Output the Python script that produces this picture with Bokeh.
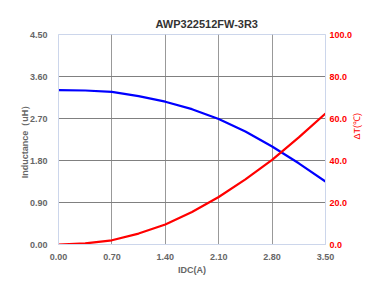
import math
from bokeh.plotting import figure
from bokeh.models import Range1d, LinearAxis, FixedTicker, NumeralTickFormatter
from bokeh.embed import file_html
from bokeh.resources import INLINE

idc = [0.0, 0.35, 0.70, 1.05, 1.40, 1.75, 2.10, 2.45, 2.80, 3.15, 3.50]
inductance = [3.31, 3.30, 3.27, 3.18, 3.06, 2.90, 2.69, 2.42, 2.10, 1.74, 1.35]
delta_t = [0.0, 0.5, 2.0, 5.2, 9.5, 15.5, 22.6, 31.0, 40.3, 51.0, 62.4]

x_ticks = [0.0, 0.7, 1.4, 2.1, 2.8, 3.5]
l_ticks = [0.0, 0.9, 1.8, 2.7, 3.6, 4.5]
r_ticks = [0, 20, 40, 60, 80, 100]

FONT = "Liberation Sans"

p = figure(width=370, height=277, output_backend="svg", toolbar_location=None,
           x_range=Range1d(0, 3.5), y_range=Range1d(0, 4.5),
           min_border_left=58, min_border_right=40, min_border_top=34, min_border_bottom=32,
           title="AWP322512FW-3R3")
p.extra_y_ranges = {"t": Range1d(0, 100)}

p.title.align = "left"
p.title.offset = 97
p.title.text_font = FONT
p.title.text_font_size = "11px"
p.title.text_color = "#333333"
p.title.text_font_style = "bold"
p.title.standoff = 10

p.outline_line_color = "#ccd6eb"
p.background_fill_color = "white"
p.border_fill_color = "white"

p.xgrid.ticker = FixedTicker(ticks=x_ticks[1:-1])
p.xgrid.grid_line_color = "#999999"
p.ygrid.ticker = FixedTicker(ticks=l_ticks[1:-1])
p.ygrid.grid_line_color = "#808080"


def style(a, color="#666666"):
    a.major_label_text_font = FONT
    a.major_label_text_font_size = "9px"
    a.major_label_text_font_style = "bold"
    a.major_label_text_color = color
    a.axis_label_text_font = FONT
    a.axis_label_text_font_size = "9px"
    a.axis_label_text_font_style = "bold"
    a.axis_label_text_color = color
    a.minor_tick_line_color = None


# bottom axis
xa = p.xaxis[0]
style(xa)
xa.ticker = FixedTicker(ticks=x_ticks)
xa.formatter = NumeralTickFormatter(format="0.00")
xa.axis_label = "IDC(A)"
xa.axis_line_color = "#ccd6eb"
xa.major_tick_line_color = None
xa.major_label_standoff = 3
xa.axis_label_standoff = 2

# left axis
ya = p.yaxis[0]
style(ya)
ya.ticker = FixedTicker(ticks=l_ticks)
ya.formatter = NumeralTickFormatter(format="0.00")
ya.axis_label = "Inductance（uH）"
ya.axis_line_color = "#ccd6eb"
ya.major_tick_line_color = None
ya.major_label_standoff = 5
ya.axis_label_standoff = -3

# right axis
ra = LinearAxis(y_range_name="t", ticker=FixedTicker(ticks=r_ticks),
                formatter=NumeralTickFormatter(format="0.0"), axis_label="ΔT(℃)")
style(ra, "#ff0000")
ra.axis_label_text_font_style = "normal"
ra.axis_line_color = "#ccd6eb"
ra.major_tick_line_color = None
ra.major_tick_out = 0
ra.major_tick_in = 0
ra.major_label_standoff = 4
ra.axis_label_standoff = 2
ra.axis_label_orientation = math.pi / 2
p.add_layout(ra, "right")

p.line(idc, inductance, line_color="#0000ff", line_width=2.2)
p.line(idc, delta_t, line_color="#ff0000", line_width=2.2, y_range_name="t")

open("out.html", "w").write(file_html(p, INLINE))
